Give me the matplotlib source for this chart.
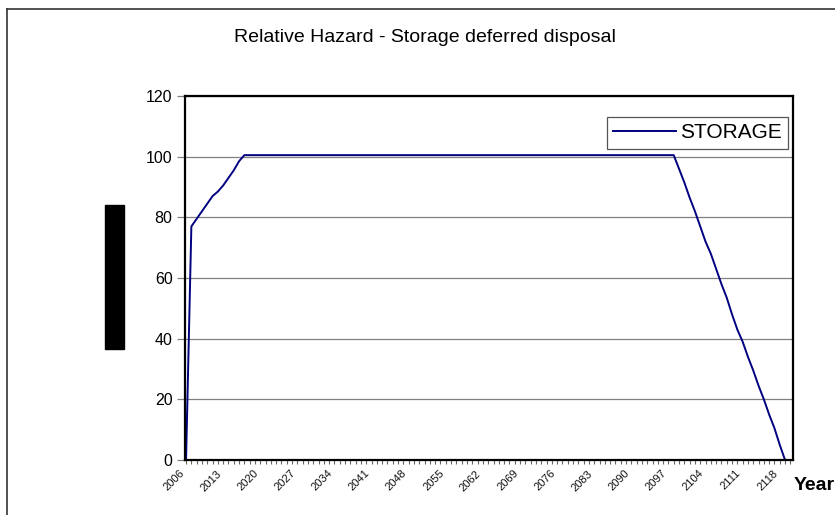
import matplotlib.pyplot as plt
from matplotlib.patches import Rectangle
from matplotlib.ticker import MultipleLocator

plt.rcParams['font.family'] = ['Liberation Sans', 'DejaVu Sans']

# relative hazard by year (storage, deferred disposal)
years = [2006, 2007, 2008, 2009, 2010, 2011, 2012, 2013, 2014, 2015, 2016, 2017,
         2098, 2099, 2100, 2101, 2102, 2103, 2104, 2105, 2106, 2107, 2108, 2109,
         2110, 2111, 2112, 2113, 2114, 2115, 2116, 2117, 2118, 2119]
storage = [0, 77, 79.5, 82, 84.5, 87, 88.5, 90.5, 93, 95.5, 98.5, 100.5,
           100.5, 96, 91.5, 86.5, 82, 77, 72, 68, 63, 58, 53.5, 48,
           43, 39, 34, 29.5, 24.5, 20, 15, 10.5, 5, 0]

year_labels = [str(y) for y in range(2006, 2119, 7)]

fig = plt.figure(figsize=(8.35, 5.15), dpi=100)
ax = fig.add_axes([185 / 835, 55 / 515, 608 / 835, 364 / 515])

ax.plot(years, storage, color='#000080', lw=1.4, label='STORAGE')

ax.set_xlim(2006 - 0.2, 2120.5)
ax.set_ylim(0, 120)
ax.set_yticks(range(0, 121, 20))
ax.yaxis.grid(True, color='#808080', lw=0.9)
ax.set_axisbelow(True)

ax.set_xticks(range(2006, 2119, 7))
ax.set_xticklabels(year_labels, rotation=45, ha='right', fontsize=8, color='#222222')
ax.xaxis.set_minor_locator(MultipleLocator(1))
ax.tick_params(axis='x', which='both', direction='out', length=3, width=0.8, colors='#666666')
ax.tick_params(axis='x', labelcolor='#111111', pad=3)
ax.tick_params(axis='y', direction='out', length=6, width=0.9, color='#808080',
               labelsize=11.5, pad=3)

for side in ['left', 'bottom', 'right', 'top']:
    ax.spines[side].set_linewidth(1.6)
    ax.spines[side].set_color('black')

leg = ax.legend(loc='upper right', bbox_to_anchor=(0.9918, 0.942), borderaxespad=0,
                fontsize=15, fancybox=False, framealpha=1, edgecolor='#555555',
                handlelength=3.0, borderpad=0.3, handletextpad=0.2)
leg.get_frame().set_linewidth(0.9)

fig.text(425 / 835, 1 - 38 / 515, 'Relative Hazard - Storage deferred disposal',
         ha='center', va='center', fontsize=14)
fig.text(794 / 835, 1 - 485 / 515, 'Year', ha='left', va='center',
         fontsize=14, fontweight='bold')

# label block on the y side
fig.add_artist(Rectangle((105 / 835, 1 - 349 / 515), 19 / 835, 144 / 515,
                         transform=fig.transFigure, color='black'))

# outer chart frame
fig.add_artist(plt.Line2D([7 / 835, 7 / 835], [0, 1 - 9 / 515], transform=fig.transFigure,
                          color='#333333', lw=1.2))
fig.add_artist(plt.Line2D([7 / 835, 1], [1 - 9 / 515, 1 - 9 / 515], transform=fig.transFigure,
                          color='#333333', lw=1.2))

fig.savefig('out.png', dpi=100)
